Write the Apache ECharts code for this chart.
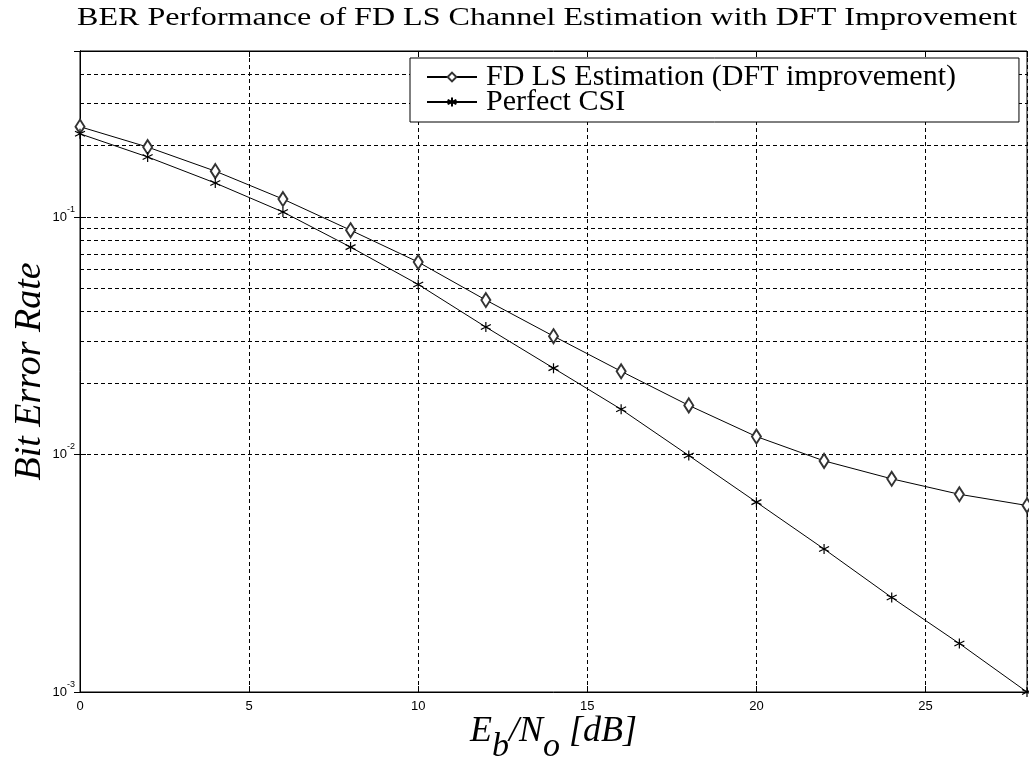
<!DOCTYPE html>
<html><head><meta charset="utf-8">
<script src="https://cdn.jsdelivr.net/npm/echarts@6/dist/echarts.min.js"></script>
<style>html,body{margin:0;padding:0;background:#fff}#c{width:1029px;height:769px}</style>
</head><body><div id="c"></div>
<script>
// ---- data ----
const ebno = [0, 2, 4, 6, 8, 10, 12, 14, 16, 18, 20, 22, 24, 26, 28];
const fdLsDft = [0.24, 0.197, 0.156, 0.119, 0.088, 0.0646, 0.0447, 0.0315, 0.0224, 0.0161, 0.0119, 0.0094, 0.0079, 0.0068, 0.0061];
const perfectCsi = [0.224, 0.179, 0.139, 0.105, 0.0747, 0.052, 0.0344, 0.0231, 0.0155, 0.0099, 0.0063, 0.0040, 0.0025, 0.0016, 0.0010];
const seriesNames = ['FD LS Estimation (DFT improvement)', 'Perfect CSI'];
const xTicks = [0, 5, 10, 15, 20, 25];
const yDecades = [0.001, 0.01, 0.1];
const yMinorGrid = [0.002,0.003,0.004,0.005,0.006,0.007,0.008,0.009,
                    0.02,0.03,0.04,0.05,0.06,0.07,0.08,0.09,
                    0.2,0.3,0.4];
const titleText = 'BER Performance of FD LS Channel Estimation with DFT Improvement';

const chart = echarts.init(document.getElementById('c'), null, {renderer: 'canvas'});
const dash = [4, 3];
const serif = '"Liberation Serif", "Times New Roman", serif';
const sans = '"Liberation Sans", Arial, sans-serif';
const asterisk = 'path://M5,0L5,10M0.67,2.5L9.33,7.5M0.67,7.5L9.33,2.5';

function yLabel(v) {
  for (const d of yDecades) {
    if (Math.abs(v - d) / d < 1e-6) {
      const e = Math.round(Math.log10(d));
      return '{b|10}{s|' + e + '}';
    }
  }
  return '';
}

chart.setOption({
  backgroundColor: '#fff',
  animation: false,
  graphic: [
    {type: 'text', left: 77, top: 5, scaleX: 1.234,
     style: {text: titleText, font: '26px ' + serif, fill: '#000'}}
  ],
  grid: {left: 80, right: 2, top: 51, bottom: 77, outerBoundsMode: 'none', containLabel: false,
         show: true, borderColor: '#000', borderWidth: 1, backgroundColor: '#fff'},
  legend: {
    orient: 'vertical', left: 410, top: 58,
    backgroundColor: '#fff', borderColor: '#000', borderWidth: 1,
    padding: [4, 63, 5, 16], itemGap: -5,
    itemWidth: 50, itemHeight: 11,
    textStyle: {fontFamily: serif, fontSize: 30, color: '#000', padding: [0, 0, 0, 4]},
    data: seriesNames
  },
  xAxis: [{
    type: 'value', min: 0, max: 28, interval: 5,
    axisLine: {show: true, lineStyle: {color: '#000'}},
    axisTick: {show: true, inside: true, length: 6, lineStyle: {color: '#000'}},
    axisLabel: {color: '#000', fontFamily: sans, fontSize: 13, margin: 8, showMaxLabel: false},
    splitLine: {show: true, lineStyle: {color: '#000', type: dash, width: 1}},
    name: '{m|E}{s|b}{m|/N}{s|o}{m| [dB]}',
    nameLocation: 'middle', nameGap: 22, nameMoveOverlap: false,
    nameTextStyle: {
      rich: {
        m: {fontFamily: serif, fontStyle: 'italic', fontSize: 36, lineHeight: 36, verticalAlign: 'top', color: '#000'},
        s: {fontFamily: serif, fontStyle: 'italic', fontSize: 34, lineHeight: 66, verticalAlign: 'middle', color: '#000'}
      }
    }
  }, {
    type: 'value', min: 0, max: 28, interval: 5, position: 'top',
    axisLine: {show: true, lineStyle: {color: '#000'}},
    axisTick: {show: true, inside: true, length: 6, lineStyle: {color: '#000'}},
    axisLabel: {show: false}, splitLine: {show: false}
  }],
  yAxis: [{
    type: 'log', logBase: 10, min: 0.001, max: 0.5,
    axisLine: {show: true, lineStyle: {color: '#000'}},
    axisTick: {show: true, inside: true, length: 6, lineStyle: {color: '#000'}},
    axisLabel: {
      formatter: yLabel, margin: 5, showMaxLabel: false,
      rich: {
        b: {fontFamily: sans, fontSize: 13, lineHeight: 24, verticalAlign: 'middle', color: '#000'},
        s: {fontFamily: sans, fontSize: 9, lineHeight: 10, verticalAlign: 'top', color: '#000'}
      }
    },
    splitLine: {show: true, lineStyle: {color: '#000', type: dash, width: 1}},
    name: 'Bit Error Rate', nameLocation: 'middle', nameGap: 31, nameRotate: 90, nameMoveOverlap: false,
    nameTextStyle: {fontFamily: serif, fontStyle: 'italic', fontSize: 38, color: '#000'}
  }, {
    type: 'log', logBase: 10, min: 0.001, max: 0.5, position: 'right',
    axisLine: {show: true, lineStyle: {color: '#000'}},
    axisTick: {show: true, inside: true, length: 6, lineStyle: {color: '#000'}},
    axisLabel: {show: false}, splitLine: {show: false}
  }],
  series: [
    {
      name: seriesNames[0], type: 'line',
      data: ebno.map((x, i) => [x, fdLsDft[i]]),
      symbol: 'emptyDiamond', symbolSize: [9, 14],
      lineStyle: {color: '#000', width: 1},
      itemStyle: {color: '#333', borderWidth: 1},
      z: 5,
      markLine: {
        silent: true, symbol: 'none', label: {show: false},
        lineStyle: {color: '#000', type: dash, width: 1},
        data: yMinorGrid.map(v => ({yAxis: v})),
        z: 1
      }
    },
    {
      name: seriesNames[1], type: 'line',
      data: ebno.map((x, i) => [x, perfectCsi[i]]),
      symbol: asterisk, symbolSize: 10,
      lineStyle: {color: '#000', width: 1},
      itemStyle: {color: '#000', borderColor: '#000', borderWidth: 1.2},
      z: 5
    }
  ]
});
</script>
</body></html>
